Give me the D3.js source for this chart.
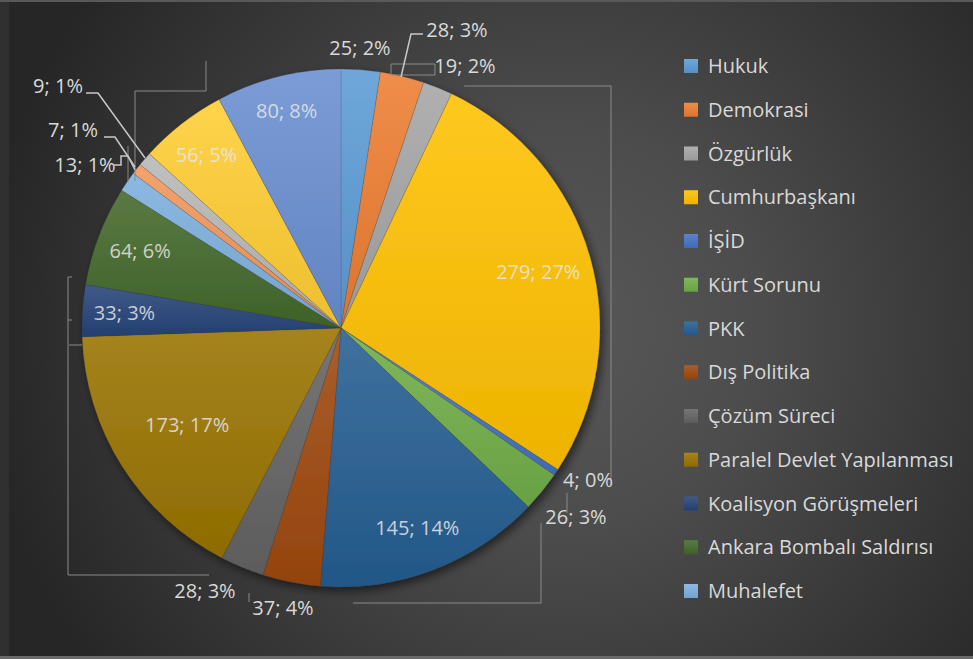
<!DOCTYPE html>
<html>
<head>
<meta charset="utf-8">
<script src="https://cdn.jsdelivr.net/npm/d3@7"></script>
<style>
  body { margin: 0; background: #303030; }
  svg { display: block; }
</style>
</head>
<body>
<div id="chart"></div>
<script>
const categories = ["Hukuk", "Demokrasi", "Özgürlük", "Cumhurbaşkanı", "İŞİD", "Kürt Sorunu", "PKK",
  "Dış Politika", "Çözüm Süreci", "Paralel Devlet Yapılanması", "Koalisyon Görüşmeleri",
  "Ankara Bombalı Saldırısı", "Muhalefet"];
// last four slices have no legend entry in the original
const values = [25, 28, 19, 279, 4, 26, 145, 37, 28, 173, 33, 64, 13, 7, 9, 56, 80];
const colors = ["#5B9BD5", "#ED7D31", "#A5A5A5", "#FFC000", "#4472C4", "#70AD47", "#255E91",
  "#9E480E", "#636363", "#997300", "#264478", "#43682B", "#7CAFDD", "#F1975A", "#B7B7B7",
  "#FFCD33", "#698ED0"];

const width = 973, height = 659;
const cx = 341, cy = 328, radius = 259;
const total = d3.sum(values);

// labels outside the pie (index -> position)
const outsideLabels = {
  0: [360, 48], 1: [457, 30], 2: [465, 66], 4: [588, 480], 5: [576, 517],
  7: [283, 608], 8: [205, 591], 12: [85, 165], 13: [73, 130], 14: [58, 86]
};
// inside labels: distance from center
const insideRadius = { 3: 205, 6: 214, 9: 182, 10: 217, 11: 215, 15: 219, 16: 224 };

const leaders = [
  [[401, 77], [411, 34], [423, 34]],
  [[86, 93], [98, 93], [145, 158]],
  [[104, 137], [115, 137], [135, 167]],
  [[114, 165], [121, 165], [121, 156], [128, 156], [135, 170]]
];
const faint = [
  [[391, 64], [435, 64], [435, 75], [391, 75], [391, 64]],
  [[464, 86], [611, 86], [611, 486]],
  [[567, 493], [567, 513]],
  [[541, 523], [541, 603], [353, 603]],
  [[249, 593], [249, 602]],
  [[209, 575], [68, 575], [68, 277], [72, 277]],
  [[68, 320], [72, 320]],
  [[69, 345], [82, 345]],
  [[206, 61], [206, 91], [135, 91], [135, 181]],
  [[128, 146], [128, 182]]
];

const svg = d3.select("#chart").append("svg")
  .attr("width", width)
  .attr("height", height);

const defs = svg.append("defs");

const bg = defs.append("radialGradient")
  .attr("id", "bg")
  .attr("gradientUnits", "userSpaceOnUse")
  .attr("cx", 560).attr("cy", 330).attr("r", 580);
bg.append("stop").attr("offset", "0").attr("stop-color", "#585858");
bg.append("stop").attr("offset", "0.35").attr("stop-color", "#4c4c4c");
bg.append("stop").attr("offset", "1").attr("stop-color", "#262626");

colors.forEach((c, i) => {
  const g = defs.append("linearGradient")
    .attr("id", "g" + i)
    .attr("x1", 0).attr("y1", 0).attr("x2", 0).attr("y2", 1);
  g.append("stop").attr("offset", "0").attr("stop-color", d3.interpolateRgb(c, "#fff")(0.12));
  g.append("stop").attr("offset", "1").attr("stop-color", d3.interpolateRgb(c, "#000")(0.07));
});

const shadow = defs.append("filter")
  .attr("id", "shadow")
  .attr("x", "-20%").attr("y", "-20%").attr("width", "140%").attr("height", "140%");
shadow.append("feDropShadow")
  .attr("dx", 3).attr("dy", 4).attr("stdDeviation", 5)
  .attr("flood-color", "#000").attr("flood-opacity", 0.55);

// frame
svg.append("rect").attr("x", 0).attr("y", 0).attr("width", width).attr("height", height).attr("fill", "#303030");
svg.append("rect").attr("x", 9).attr("y", 2).attr("width", width - 9).attr("height", 654).attr("fill", "url(#bg)");
svg.append("rect").attr("x", 0).attr("y", 0).attr("width", width).attr("height", 2).attr("fill", "#595959");
svg.append("rect").attr("x", 0).attr("y", 656).attr("width", width).attr("height", 3).attr("fill", "#6a6a6a");

const pie = d3.pie().sort(null).value(d => d);
const arc = d3.arc().innerRadius(0).outerRadius(radius);
const arcs = pie(values);

const g = svg.append("g").attr("transform", `translate(${cx}, ${cy})`);

g.append("g")
  .attr("filter", "url(#shadow)")
  .selectAll("path")
  .data(arcs)
  .join("path")
  .attr("d", arc)
  .attr("fill", (d, i) => `url(#g${i})`)
  .attr("stroke", "rgba(60,60,60,0.35)")
  .style("stroke-width", "0.5px");

// leader lines
const line = d3.line();
svg.selectAll("path.faint")
  .data(faint)
  .join("path")
  .attr("class", "faint")
  .attr("d", line)
  .attr("fill", "none")
  .attr("stroke", "#8a8a8a")
  .attr("stroke-width", 1);

svg.selectAll("path.leader")
  .data(leaders)
  .join("path")
  .attr("class", "leader")
  .attr("d", line)
  .attr("fill", "none")
  .attr("stroke", "#c8c8c8")
  .attr("stroke-width", 1.5);

const fmt = d => `${d.value}; ${Math.round(d.value / total * 100)}%`;

svg.selectAll("text.lbl")
  .data(arcs)
  .join("text")
  .attr("class", "lbl")
  .attr("transform", (d, i) => {
    if (outsideLabels[i]) return `translate(${outsideLabels[i]})`;
    const a = (d.startAngle + d.endAngle) / 2;
    const r = insideRadius[i] || radius * 0.82;
    return `translate(${cx + r * Math.sin(a)}, ${cy - r * Math.cos(a)})`;
  })
  .attr("dy", "0.35em")
  .style("text-anchor", "middle")
  .style("font-family", "'Open Sans', sans-serif")
  .style("font-size", "20px")
  .style("fill", (d, i) => outsideLabels[i] ? "#d9d9d9" : "rgba(230,230,230,0.85)")
  .text(fmt);

// legend
const legend = svg.append("g").attr("transform", "translate(684, 66)");
const item = legend.selectAll("g")
  .data(categories)
  .join("g")
  .attr("transform", (d, i) => `translate(0, ${i * 43.75})`);

item.append("rect")
  .attr("x", 0).attr("y", -7)
  .attr("width", 14).attr("height", 14)
  .attr("fill", (d, i) => `url(#g${i})`);

item.append("text")
  .attr("x", 24)
  .attr("dy", "0.35em")
  .style("font-family", "'Open Sans', sans-serif")
  .style("font-size", "20px")
  .style("fill", "#d9d9d9")
  .text(d => d);
</script>
</body>
</html>
